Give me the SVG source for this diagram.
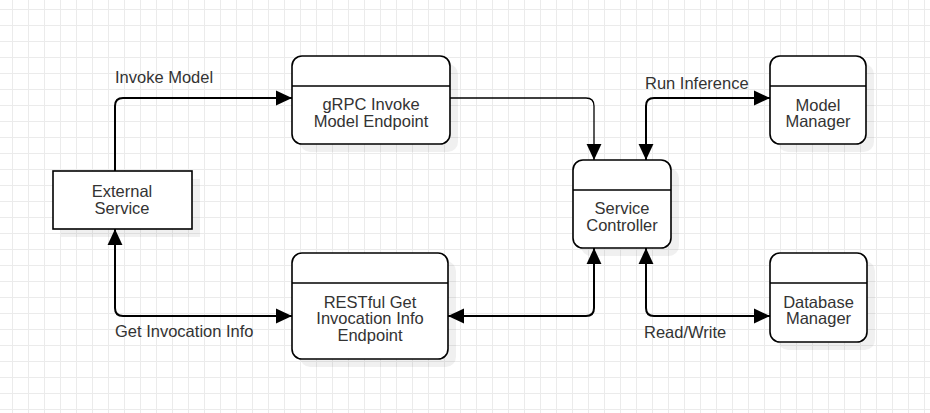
<svg xmlns="http://www.w3.org/2000/svg" width="930" height="413" viewBox="0 0 930 413">
  <defs>
    <pattern id="grid" patternUnits="userSpaceOnUse" x="12" y="9" width="16" height="16">
      <path d="M0.5,0 V16 M0,0.5 H16" fill="none" stroke="#ebebeb" stroke-width="1"/>
    </pattern>
    <marker id="arr" markerUnits="userSpaceOnUse" markerWidth="16" markerHeight="16" viewBox="0 0 14 13" refX="14" refY="6.5" orient="auto-start-reverse">
      <path d="M0,0 L14,6.5 L0,13 Z" fill="#000"/>
    </marker>
    <style>
      .box { fill: #fff; stroke: #000; stroke-width: 1.6; }
      .shadow { fill: #000; opacity: 0.06; }
      .div { stroke: #000; stroke-width: 1.6; }
      .conn { fill: none; stroke: #000; stroke-width: 2; }
      .thin { stroke-width: 1.3; }
      text { font-family: "Liberation Sans", Arial, sans-serif; font-size: 16.5px; fill: #333; }
      .c { text-anchor: middle; }
    </style>
  </defs>
  <rect width="930" height="413" fill="#fff"/>
  <rect width="930" height="413" fill="url(#grid)"/>

  <g id="connectors">
    <path class="conn" d="M115,171 L115,106 Q115,98 123,98 L292,98" marker-end="url(#arr)"/>
    <path class="conn thin" d="M450,98 L586,98 Q594,98 594,106 L594,160" marker-end="url(#arr)"/>
    <path class="conn" d="M646,160 L646,106 Q646,98 654,98 L770,98" marker-start="url(#arr)" marker-end="url(#arr)"/>
    <path class="conn" d="M594,248 L594,308 Q594,316 586,316 L448,316" marker-start="url(#arr)" marker-end="url(#arr)"/>
    <path class="conn" d="M646,248 L646,308 Q646,316 654,316 L770,316" marker-start="url(#arr)" marker-end="url(#arr)"/>
    <path class="conn" d="M115,229 L115,308 Q115,316 123,316 L292,316" marker-start="url(#arr)" marker-end="url(#arr)"/>
    <text x="115" y="83">Invoke Model</text>
    <text x="645" y="89">Run Inference</text>
    <text x="115" y="337">Get Invocation Info</text>
    <text x="644" y="338">Read/Write</text>
  </g>

  <g id="external-service">
    <rect class="shadow" x="61" y="179" width="139" height="58"/>
    <rect class="box" x="53" y="171" width="139" height="58"/>
    <text class="c" x="122" y="197">External</text>
    <text class="c" x="122" y="213.5">Service</text>
  </g>

  <g id="grpc-endpoint">
    <rect class="shadow" x="300" y="64" width="158" height="88" rx="10"/>
    <rect class="box" x="292" y="56" width="158" height="88" rx="10"/>
    <line class="div" x1="292" y1="86" x2="450" y2="86"/>
    <text class="c" x="371" y="110">gRPC Invoke</text>
    <text class="c" x="371" y="126.5">Model Endpoint</text>
  </g>

  <g id="service-controller">
    <rect class="shadow" x="581" y="168" width="98" height="88" rx="10"/>
    <rect class="box" x="573" y="160" width="98" height="88" rx="10"/>
    <line class="div" x1="573" y1="190" x2="671" y2="190"/>
    <text class="c" x="622" y="214">Service</text>
    <text class="c" x="622" y="230.5">Controller</text>
  </g>

  <g id="model-manager">
    <rect class="shadow" x="778" y="64" width="96" height="88" rx="10"/>
    <rect class="box" x="770" y="56" width="96" height="88" rx="10"/>
    <line class="div" x1="770" y1="86" x2="866" y2="86"/>
    <text class="c" x="818" y="110.5">Model</text>
    <text class="c" x="818" y="127">Manager</text>
  </g>

  <g id="restful-endpoint">
    <rect class="shadow" x="300" y="261" width="156" height="106" rx="10"/>
    <rect class="box" x="292" y="253" width="156" height="106" rx="10"/>
    <line class="div" x1="292" y1="283" x2="448" y2="283"/>
    <text class="c" x="370" y="307.5">RESTful Get</text>
    <text class="c" x="370" y="324">Invocation Info</text>
    <text class="c" x="370" y="340.5">Endpoint</text>
  </g>

  <g id="database-manager">
    <rect class="shadow" x="778" y="261" width="97" height="89" rx="10"/>
    <rect class="box" x="770" y="253" width="97" height="89" rx="10"/>
    <line class="div" x1="770" y1="283" x2="867" y2="283"/>
    <text class="c" x="818.5" y="307.5">Database</text>
    <text class="c" x="818.5" y="324">Manager</text>
  </g>
</svg>
